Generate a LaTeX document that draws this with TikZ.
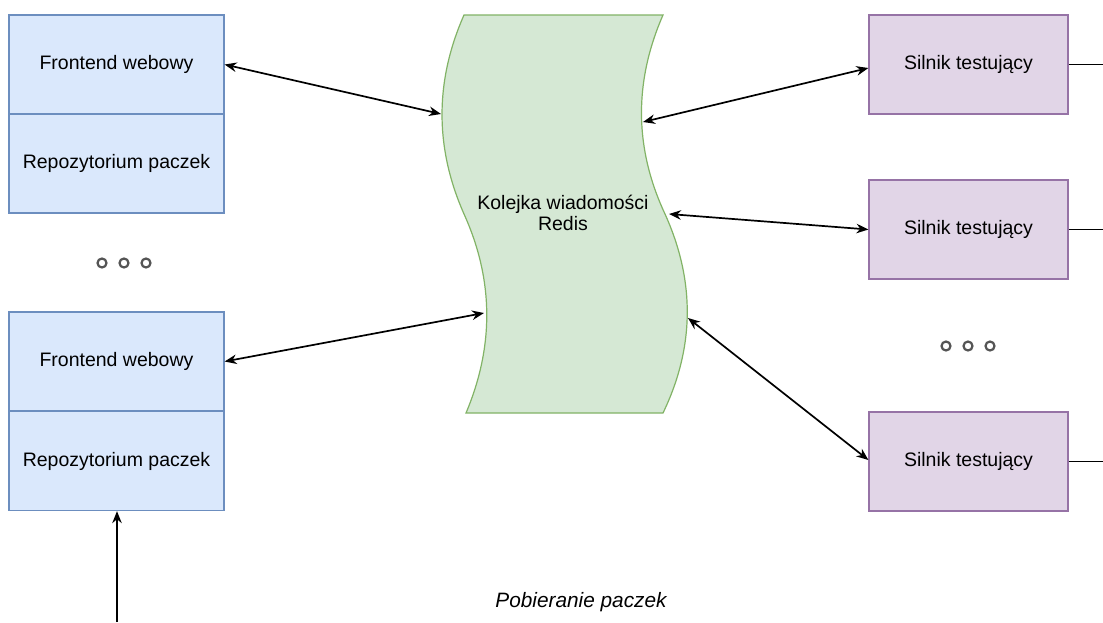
\documentclass[tikz,border=0pt]{standalone}
\usepackage{fontspec}
\setmainfont{Liberation Sans}
\usetikzlibrary{arrows.meta,calc}
\definecolor{blueF}{HTML}{DAE8FC}
\definecolor{blueD}{HTML}{6C8EBF}
\definecolor{greenF}{HTML}{D5E8D4}
\definecolor{greenD}{HTML}{82B366}
\definecolor{purpF}{HTML}{E1D5E7}
\definecolor{purpD}{HTML}{9673A6}
\definecolor{dotC}{HTML}{555555}
\tikzset{
  lbl/.style={font=\fontsize{19.5}{23}\selectfont},
  bluebox/.style={lbl, draw=blueD, fill=blueF, line width=1.2pt, minimum width=215pt, minimum height=99pt, inner sep=0pt},
  purpbox/.style={lbl, draw=purpD, fill=purpF, line width=1.2pt, minimum width=199pt, minimum height=99pt, inner sep=0pt},
  tip/.tip={Stealth[length=12pt,width=9.5pt]},
  arr/.style={tip-tip, line width=1.7pt},
  uparr/.style={-tip, line width=1.7pt},
  tail/.style={line width=1.7pt},
  ring/.style={circle, draw=dotC, line width=2.2pt, minimum size=9pt, inner sep=0pt}
}
\begin{document}
\begin{tikzpicture}[x=1pt,y=-1pt]
\useasboundingbox (0,0) rectangle (1103,622);
\fill[white] (0,0) rectangle (1103,622);

% left stacks: web frontend over package repository
\node[bluebox] (fw1) at (116.5,64.5) {Frontend webowy};
\node[bluebox] (rp1) at (116.5,163.5) {Repozytorium paczek};
\node[bluebox] (fw2) at (116.5,361.5) {Frontend webowy};
\node[bluebox] (rp2) at (116.5,461) {Repozytorium paczek};

% ellipsis between the stacks
\node[ring] (l1) at (102,263) {};
\node[ring] (l2) at (124,263) {};
\node[ring] (l3) at (146,263) {};

% message queue drawn as a tape with wavy sides
\filldraw[fill=greenF, draw=greenD, line width=1.2pt]
  (464,15) -- (663,15)
  .. controls (634,81.3) and (634,147.7) .. (665,214)
  .. controls (695,280.3) and (695,346.7) .. (663,413)
  -- (466,413)
  .. controls (494,346.7) and (494,280.3) .. (464,214)
  .. controls (434.7,147.7) and (434.7,81.3) .. (464,15) -- cycle;
\node[lbl, align=center] (q) at (563,213) {Kolejka wiadomości\\[-2pt]Redis};
\coordinate (ql1) at (441,114);
\coordinate (ql2) at (484,313);
\coordinate (qr1) at (643,122);
\coordinate (qr2) at (669,214);
\coordinate (qr3) at (688,318);

% test engines
\node[purpbox] (s1) at (968.5,64.5) {Silnik testujący};
\node[purpbox] (s2) at (968.5,229.5) {Silnik testujący};
\node[purpbox] (s3) at (968.5,461.5) {Silnik testujący};

\node[ring] (r1) at (946,346) {};
\node[ring] (r2) at (968,346) {};
\node[ring] (r3) at (990,346) {};

% connections
\draw[arr] (fw1.east) -- (ql1);
\draw[arr] (fw2.east) -- (ql2);
\draw[arr] (qr1) -- ([yshift=-3.5pt]s1.west);
\draw[arr] (qr2) -- (s2.west);
\draw[arr] (qr3) -- ([yshift=1.5pt]s3.west);

\draw[tail] (s1.east) -- ++(36,0);
\draw[tail] (s2.east) -- ++(36,0);
\draw[tail] (s3.east) -- ++(36,0);

\coordinate (src) at (117,622);
\draw[uparr] (src) -- (src |- rp2.south);

\node[lbl, font=\itshape\fontsize{20.8}{24}\selectfont] (cap) at (581,602) {Pobieranie paczek};
\end{tikzpicture}
\end{document}
